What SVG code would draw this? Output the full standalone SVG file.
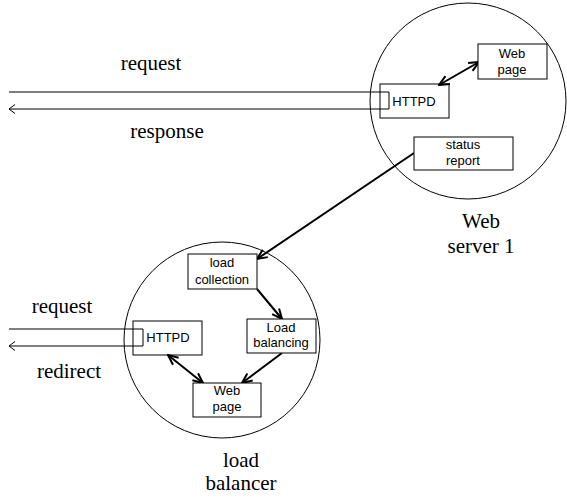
<svg xmlns="http://www.w3.org/2000/svg" width="567" height="499" viewBox="0 0 567 499">
<style>
.circ{fill:none;stroke:#000;stroke-width:1}
.box{fill:#fff;stroke:#000;stroke-width:1}
.bt{font-family:"Liberation Sans",Arial,sans-serif;font-size:13px;fill:#000;text-anchor:middle}
.lab{font-family:"Liberation Serif","Times New Roman",serif;font-size:21px;fill:#000;text-anchor:middle}
.con{fill:none;stroke:#000;stroke-width:2}
.thin{fill:none;stroke:#000;stroke-width:1}
</style>
<defs>
<marker id="ah" viewBox="0 0 12 12" refX="11" refY="6" markerWidth="12" markerHeight="12" markerUnits="userSpaceOnUse" orient="auto-start-reverse">
<path d="M1,1.5 L11,6 L1,10.5" fill="none" stroke="#000" stroke-width="2"/>
</marker>
<marker id="ahThin" viewBox="0 0 10 10" refX="9" refY="5" markerWidth="10" markerHeight="10" markerUnits="userSpaceOnUse" orient="auto">
<path d="M3,0.5 L9,5 L3,9.5" fill="none" stroke="#000" stroke-width="1"/>
</marker>
</defs>
<rect width="567" height="499" fill="#fff"/>

<g id="webserver1">
<circle class="circ" cx="468" cy="101" r="98"/>
<text class="lab" x="481" y="228" font-size="20">Web</text>
<text class="lab" x="481" y="253" font-size="20">server 1</text>
</g>
<g id="loadbalancer">
<circle class="circ" cx="222" cy="340" r="98"/>
<text class="lab" x="241" y="467">load</text>
<text class="lab" x="241" y="490">balancer</text>
</g>

<g id="connectors">
<path class="thin" d="M9,92 H389 V109 H9" marker-end="url(#ahThin)"/>
<path class="thin" d="M9,329 H143 V346 H9" marker-end="url(#ahThin)"/>
<line class="con" x1="439" y1="85" x2="479" y2="62" marker-start="url(#ah)" marker-end="url(#ah)"/>
<line class="con" x1="414" y1="153" x2="257" y2="259" marker-end="url(#ah)"/>
<line class="con" x1="257" y1="289" x2="282" y2="319" marker-end="url(#ah)"/>
<line class="con" x1="282" y1="353" x2="242" y2="383" marker-end="url(#ah)"/>
<line class="con" x1="168" y1="355" x2="203" y2="383" marker-start="url(#ah)" marker-end="url(#ah)"/>
</g>

<g id="top-labels">
<text class="lab" x="151" y="70">request</text>
<text class="lab" x="167" y="138">response</text>
<text class="lab" x="62" y="313">request</text>
<text class="lab" x="69" y="378">redirect</text>
</g>

<g id="ws-webpage">
<rect class="box" x="478" y="44" width="69" height="35"/>
<text class="bt" x="512" y="58">Web</text>
<text class="bt" x="512" y="74">page</text>
</g>
<g id="ws-httpd">
<rect class="box" x="380" y="84" width="69" height="34" style="fill:none"/>
<text class="bt" x="414" y="106">HTTPD</text>
</g>
<g id="ws-status">
<rect class="box" x="414" y="137" width="99" height="33"/>
<text class="bt" x="463" y="149">status</text>
<text class="bt" x="463" y="165">report</text>
</g>

<g id="lb-collection">
<rect class="box" x="188" y="254" width="69" height="35"/>
<text class="bt" x="222" y="267">load</text>
<text class="bt" x="222" y="284">collection</text>
</g>
<g id="lb-balancing">
<rect class="box" x="247" y="319" width="69" height="34"/>
<text class="bt" x="281" y="332">Load</text>
<text class="bt" x="281" y="347">balancing</text>
</g>
<g id="lb-httpd">
<rect class="box" x="133" y="321" width="69" height="34" style="fill:none"/>
<text class="bt" x="168" y="342">HTTPD</text>
</g>
<g id="lb-webpage">
<rect class="box" x="193" y="383" width="68" height="34"/>
<text class="bt" x="227" y="395">Web</text>
<text class="bt" x="227" y="411">page</text>
</g>
</svg>
